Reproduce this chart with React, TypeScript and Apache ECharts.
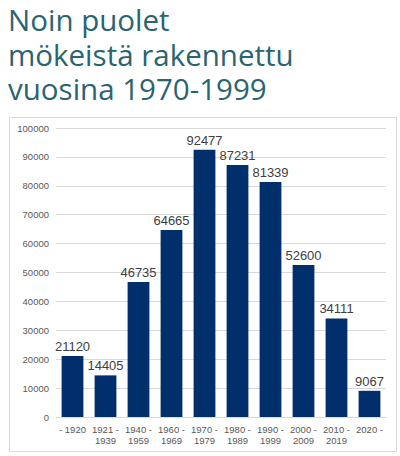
import React, { useEffect, useRef } from 'react'
import * as echarts from 'echarts'

const periods = ['- 1920', '1921 -\n1939', '1940 -\n1959', '1960 -\n1969', '1970 -\n1979', '1980 -\n1989', '1990 -\n1999', '2000 -\n2009', '2010 -\n2019', '2020 -']
const cottages = [21120, 14405, 46735, 64665, 92477, 87231, 81339, 52600, 34111, 9067]
const titleLines = ['Noin puolet', 'mökeistä rakennettu', 'vuosina 1970-1999']

const App: React.FC = () => {
  const chartRef = useRef<HTMLDivElement>(null)

  useEffect(() => {
    if (!chartRef.current) return
    const chart = echarts.init(chartRef.current, undefined, { renderer: 'svg' })

    // one title per line so the lines can sit at the slide's spacing
    const titles = titleLines.map((line, i) => ({
      text: line,
      left: 8,
      top: 4.5 + i * 34.5,
      padding: 0,
      textStyle: {
        fontFamily: 'Open Sans',
        fontWeight: 'normal' as const,
        fontSize: 29.5,
        lineHeight: 30,
        color: '#2a6470'
      }
    }))

    const option: echarts.EChartsOption = {
      animation: false,
      backgroundColor: '#ffffff',
      title: titles,
      graphic: [
        {
          type: 'rect',
          shape: { x: 9.5, y: 117.5, width: 387, height: 334 },
          style: { fill: 'none', stroke: '#d9d9d9', lineWidth: 1 },
          z: -1
        }
      ],
      grid: { left: 56, right: 14, top: 128, bottom: 39 },
      xAxis: {
        type: 'category',
        data: periods,
        axisLine: { lineStyle: { color: '#d9d9d9' } },
        axisTick: { show: false },
        axisLabel: {
          color: '#595959',
          fontFamily: 'Liberation Sans',
          fontSize: 9.5,
          lineHeight: 11,
          margin: 7,
          interval: 0
        }
      },
      yAxis: {
        type: 'value',
        min: 0,
        max: 100000,
        interval: 10000,
        axisLine: { show: false },
        axisTick: { show: false },
        splitLine: { lineStyle: { color: '#d9d9d9' } },
        axisLabel: {
          color: '#595959',
          fontFamily: 'Liberation Sans',
          fontSize: 9.5,
          margin: 7,
          formatter: (v: number) => String(v)
        }
      },
      series: [
        {
          type: 'bar',
          data: cottages,
          barCategoryGap: '34%',
          itemStyle: { color: '#002f6c' },
          label: {
            show: true,
            position: 'top',
            distance: 3,
            color: '#404040',
            fontFamily: 'Liberation Sans',
            fontSize: 13
          }
        }
      ]
    }

    chart.setOption(option)
    return () => {
      chart.dispose()
    }
  }, [])

  return (
    <div
      ref={chartRef}
      style={{ position: 'fixed', left: 0, top: 0, width: 400, height: 456 }}
    />
  )
}

export default App
